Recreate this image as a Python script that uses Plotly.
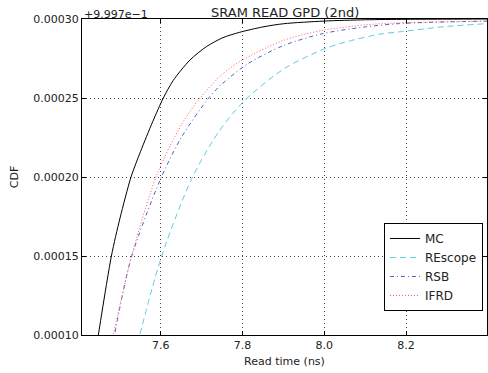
import plotly.graph_objects as go

# Values shown as offset from 0.9997 (matplotlib-style offset text "+9.997e-1")
mc_x = [7.447, 7.479, 7.500, 7.527, 7.550, 7.580, 7.606, 7.630, 7.671, 7.712, 7.752, 7.793, 7.850, 7.900, 8.000, 8.100, 8.200, 8.300, 8.398]
mc_y = [0.000100, 0.000150, 0.000174, 0.000200, 0.000216, 0.000235, 0.000250, 0.000261, 0.000274, 0.0002826, 0.0002882, 0.0002916, 0.000295, 0.000297, 0.0002987, 0.0002995, 0.0002998, 0.0002999, 0.0003]

rescope_x = [7.549, 7.602, 7.676, 7.740, 7.801, 7.900, 7.997, 8.050, 8.135, 8.184, 8.300, 8.400]
rescope_y = [0.0001007, 0.000150, 0.0001992, 0.000228, 0.0002474, 0.0002683, 0.0002808, 0.0002853, 0.0002904, 0.0002919, 0.0002953, 0.0002971]

rsb_x = [7.488, 7.527, 7.598, 7.650, 7.717, 7.750, 7.813, 7.900, 7.997, 8.100, 8.184, 8.300, 8.398]
rsb_y = [0.0001018, 0.0001484, 0.000198, 0.000225, 0.000250, 0.000259, 0.0002717, 0.0002832, 0.0002908, 0.000295, 0.0002971, 0.0002982, 0.0002986]

ifrd_x = [7.484, 7.529, 7.590, 7.650, 7.696, 7.750, 7.798, 7.900, 7.997, 8.100, 8.184, 8.300, 8.398]
ifrd_y = [0.0001007, 0.0001505, 0.0002013, 0.000233, 0.000250, 0.000265, 0.0002738, 0.0002865, 0.0002929, 0.0002963, 0.0002976, 0.0002982, 0.0002986]

x_ticks = [7.6, 7.8, 8.0, 8.2]
y_ticks = [0.00010, 0.00015, 0.00020, 0.00025, 0.00030]

FONT = "DejaVu Sans"
TXT = "#222222"

fig = go.Figure()
fig.add_trace(go.Scatter(x=mc_x, y=mc_y, mode="lines", name="MC",
                         line=dict(color="black", width=1, shape="spline", smoothing=0.8)))
fig.add_trace(go.Scatter(x=rescope_x, y=rescope_y, mode="lines", name="REscope",
                         line=dict(color="#5ccde2", width=1, dash="6px,4px", shape="spline", smoothing=0.8)))
fig.add_trace(go.Scatter(x=rsb_x, y=rsb_y, mode="lines", name="RSB",
                         line=dict(color="#4a62c4", width=1, dash="4px,3px,1px,3px", shape="spline", smoothing=0.8)))
fig.add_trace(go.Scatter(x=ifrd_x, y=ifrd_y, mode="lines", name="IFRD",
                         line=dict(color="#ff5566", width=1, dash="1px,2px", shape="spline", smoothing=0.8)))

axis_common = dict(
    showline=True, linecolor="black", linewidth=1, mirror="allticks",
    ticks="inside", ticklen=4, tickcolor="black",
    showgrid=True, gridcolor="#444444", griddash="1px,3px", gridwidth=1,
    zeroline=False, tickfont=dict(family=FONT, size=11, color=TXT),
)

fig.update_layout(
    width=488, height=373,
    margin=dict(l=82, r=1, t=19, b=38),
    paper_bgcolor="white", plot_bgcolor="white",
    font=dict(family=FONT, color=TXT),
    xaxis=dict(range=[7.407, 8.398], tickvals=x_ticks, tickformat=".1f",
               title=dict(text="Read time (ns)", font=dict(size=11), standoff=6),
               **axis_common),
    yaxis=dict(range=[0.00010, 0.00030], tickvals=y_ticks, tickformat=".5f",
               title=dict(text="CDF", font=dict(size=11), standoff=12),
               **axis_common),
    legend=dict(x=0.99, y=0.076, xanchor="right", yanchor="bottom",
                bordercolor="black", borderwidth=1, bgcolor="white",
                font=dict(family=FONT, size=12, color=TXT), tracegroupgap=0,
                itemwidth=30),
    showlegend=True,
    annotations=[
        dict(text="SRAM READ GPD (2nd)", x=0.5, y=1, xref="paper", yref="paper",
             xanchor="center", yanchor="bottom", showarrow=False,
             font=dict(family=FONT, size=13, color=TXT), yshift=-3),
        dict(text="+9.997e\u22121", x=0, y=1, xref="paper", yref="paper",
             xanchor="left", yanchor="bottom", showarrow=False,
             font=dict(family=FONT, size=11, color=TXT), yshift=-4),
    ],
)

# Remove the browser's default body margin so the figure fills the window exactly.
fig.write_html("out.html",
               config={"displayModeBar": False},
               post_script="document.body.style.margin='0';document.body.style.overflow='hidden';")
